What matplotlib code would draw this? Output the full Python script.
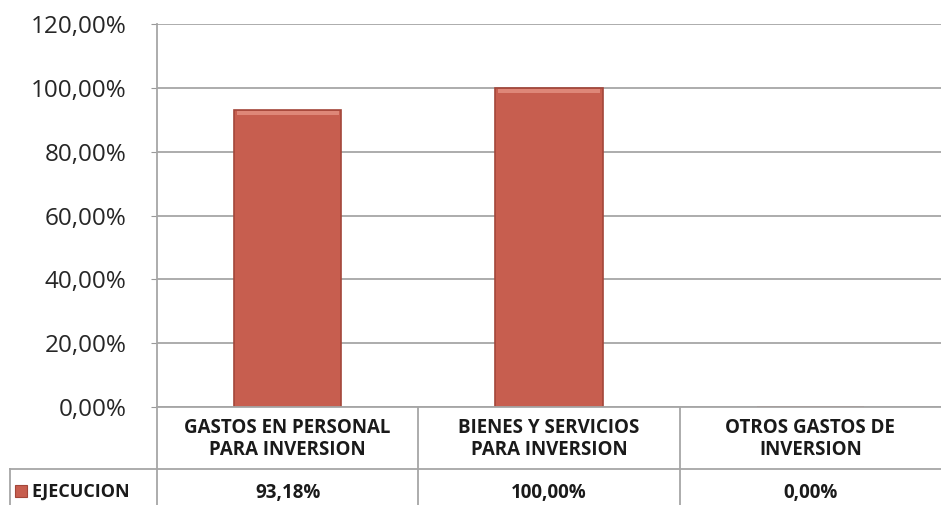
import numpy as np
import matplotlib.pyplot as plt
from matplotlib.lines import Line2D

categories = ['GASTOS EN PERSONAL\nPARA INVERSION',
              'BIENES Y SERVICIOS\nPARA INVERSION',
              'OTROS GASTOS DE\nINVERSION']
ejecucion = [93.18, 100.00, 0.00]
value_labels = ['93,18%', '100,00%', '0,00%']
series_name = 'EJECUCION'
yticks = [0, 20, 40, 60, 80, 100, 120]

W, H = 941, 505
fig = plt.figure(figsize=(W / 100, H / 100), dpi=100)
plt.rcParams['font.family'] = ['Open Sans', 'DejaVu Sans']


def fx(px):
    return px / W


def fy(py):
    return 1 - py / H


# plot area in pixels
left, right, top, bottom = 157, 941, 24, 407
ax = fig.add_axes([fx(left), fy(bottom), fx(right - left), fy(top) - fy(bottom)])

bar_color = '#C75E4F'
edge_color = '#A3463A'
x = np.arange(len(categories)) + 0.5
ax.bar(x, ejecucion, width=0.41, color=bar_color, edgecolor=edge_color,
       linewidth=1.2, zorder=3)
# lighter bevel strip along the top of each bar
ax.bar(x, [1.2 if v > 0 else 0 for v in ejecucion],
       bottom=[max(v - 1.6, 0) for v in ejecucion], width=0.39,
       color='#DE8778', linewidth=0, zorder=4)

ax.set_xlim(0, 3)
ax.set_ylim(0, 120)
ax.set_yticks(yticks)
ax.set_yticklabels(['%d,00%%' % t for t in yticks], fontsize=17.5, color='#262626')
ax.set_xticks([])
ax.tick_params(axis='y', length=4, color='#999999', pad=18)
ax.grid(axis='y', color='#A6A6A6', linewidth=1.3, zorder=0)
for s in ['top', 'right', 'bottom']:
    ax.spines[s].set_visible(False)
ax.spines['left'].set_color('#A6A6A6')
ax.spines['left'].set_linewidth(1.3)

# data table below the plot
row1_bottom = 469
line_kw = dict(color='#A6A6A6', linewidth=1.3, transform=fig.transFigure)
col_edges = [left + i * (right - left) / 3 for i in range(4)]
fig.add_artist(Line2D([fx(left), fx(right)], [fy(bottom), fy(bottom)], **line_kw))
fig.add_artist(Line2D([fx(10), fx(right)], [fy(row1_bottom), fy(row1_bottom)], **line_kw))
fig.add_artist(Line2D([fx(10), fx(10)], [fy(row1_bottom), fy(H)], **line_kw))
for ce in col_edges[:3]:
    fig.add_artist(Line2D([fx(ce), fx(ce)], [fy(bottom), fy(H)], **line_kw))

for i, cat in enumerate(categories):
    cx = (col_edges[i] + col_edges[i + 1]) / 2
    fig.text(fx(cx), fy((bottom + row1_bottom) / 2 + 1), cat, ha='center', va='center',
             fontsize=13.5, fontweight='bold', color='#1a1a1a', linespacing=1.15)
    fig.text(fx(cx), fy(493), value_labels[i], ha='center', va='center',
             fontsize=13.5, fontweight='bold', color='#1a1a1a')

fig.patches.append(plt.Rectangle((fx(15), fy(497)), fx(12), fy(485) - fy(497),
                                 facecolor=bar_color, edgecolor=edge_color,
                                 linewidth=0.8, transform=fig.transFigure))
fig.text(fx(31), fy(492), series_name, ha='left', va='center',
         fontsize=13, fontweight='bold', color='#1a1a1a')

fig.savefig('out.png', dpi=100)
